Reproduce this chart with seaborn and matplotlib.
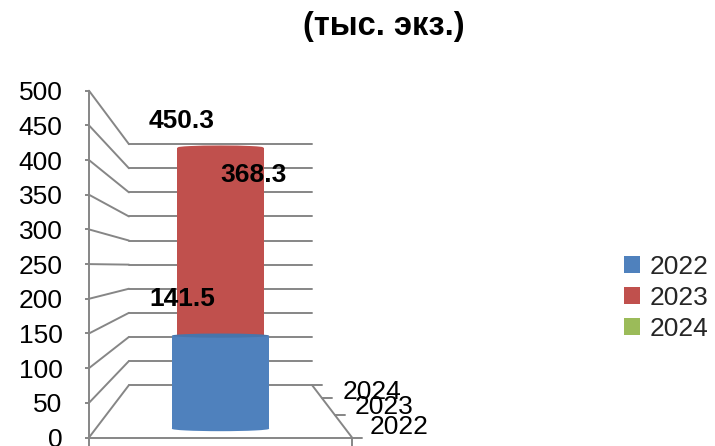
import matplotlib
matplotlib.use("Agg")
import matplotlib.pyplot as plt
from matplotlib.patches import Ellipse
import pandas as pd
import seaborn as sns

# Data
years = ["2022", "2023", "2024"]
values = [141.5, 450.3, 368.3]
colors = ["#4F81BD", "#C0504D", "#9BBB59"]
y_ticks = list(range(0, 501, 50))

# Depth position of each series inside the 3D box (0 = front, 1 = back)
bar_depth = [1 / 6, 0.52, 5 / 6]
tick_depth = [0, 0.43, 0.75, 1]
label_xy = [(0.354, 200), (0.354, 457), (0.627, 378)]
cat_label_xy = [(1.068, 15), (1.011, 44), (0.966, 66)]

GRID = "#868686"
FS = 19
FLOOR = 75.6      # rise of the back wall base, in value units
SHRINK_Y = 0.3055
SHRINK_X = 0.304

sns.set_style("white")
plt.rcParams["font.family"] = ["Liberation Sans", "DejaVu Sans"]

fig = plt.figure(figsize=(7.15, 4.46), dpi=100)
ax = fig.add_axes([89 / 715, 8.5 / 446, 263 / 715, 346.8 / 446])


def py(v, d):
    return FLOOR * d + v * (1 - SHRINK_Y * d)


def px(x, d):
    return 0.5 + (x - 0.5) * (1 - SHRINK_X * d)


# Walls and floor
for t in y_ticks:
    ax.plot([0, px(0, 1)], [t, py(t, 1)], color=GRID, lw=1.4, clip_on=False, zorder=1)
    ax.plot([px(0, 1), px(1, 1)], [py(t, 1), py(t, 1)], color=GRID, lw=1.4, clip_on=False, zorder=1)
ax.plot([1, px(1, 1)], [0, py(0, 1)], color=GRID, lw=1.4, clip_on=False, zorder=1)
for d in tick_depth:
    ax.plot([px(1, d), px(1, d) + 0.038], [py(0, d), py(0, d)], color=GRID, lw=1.4, clip_on=False, zorder=1)

# Cylinders, back to front
df = pd.DataFrame({"year": years, "value": values, "color": colors, "depth": bar_depth})
for i in [2, 1, 0]:
    r = df.iloc[i]
    d = r["depth"]
    base = py(0, d)
    top = py(r["value"], d)
    width = 0.39 * (1 - SHRINK_X * d)
    sns.barplot(x=[0.5], y=[top - base], bottom=base, width=width, color=r["color"],
                saturation=1, native_scale=True, orient="x", ax=ax, label=r["year"],
                linewidth=0, zorder=3 + (2 - i))
    ax.add_patch(Ellipse((0.5, base), width, 7, color=r["color"], lw=0, zorder=3 + (2 - i)))
    cap = "#4775AB" if i == 0 else r["color"]
    ax.add_patch(Ellipse((0.5, top), width, 6, color=cap, lw=0, zorder=3 + (2 - i)))

handles, labels = ax.get_legend_handles_labels()
if ax.get_legend() is not None:
    ax.get_legend().remove()

ax.set_xlim(0, 1)
ax.set_ylim(0, 500)
ax.set_xlabel("")
ax.set_ylabel("")
ax.set_xticks([0, 1])
ax.set_xticklabels([])
ax.set_yticks(y_ticks)
ax.set_yticklabels([str(t) for t in y_ticks], fontsize=FS, color="black")
ax.tick_params(axis="y", length=3, width=1.4, color=GRID, pad=16, left=True)
ax.tick_params(axis="x", length=6, width=1.4, color=GRID, bottom=True)
ax.set_facecolor("none")
for side in ["top", "right"]:
    ax.spines[side].set_visible(False)
for side in ["left", "bottom"]:
    ax.spines[side].set_color(GRID)
    ax.spines[side].set_linewidth(1.4)
    ax.spines[side].set_clip_on(False)

# Data labels
for v, (x, y) in zip(values, label_xy):
    ax.text(x, y, f"{v}", ha="center", va="center", fontsize=FS, fontweight="bold",
            color="black", zorder=10)

# Category labels on the depth axis
for yr, (x, y) in zip(years, cat_label_xy):
    ax.text(x, y, yr, ha="left", va="center", fontsize=FS, color="black", clip_on=False, zorder=10)

# Title
fig.text(384 / 715, (446 - 27) / 446, "(тыс. экз.)", ha="center", va="center",
         fontsize=23.5, fontweight="bold", color="black")

# Legend
order = sorted(range(len(labels)), key=lambda k: labels[k])
fig.legend([handles[k] for k in order], [labels[k] for k in order],
           loc="center left", bbox_to_anchor=(624 / 715, (446 - 298) / 446),
           frameon=False, fontsize=FS, borderpad=0, borderaxespad=0,
           handlelength=0.6, handleheight=0.6, handletextpad=0.38, labelspacing=0.27)

fig.savefig("out.png", dpi=100)
